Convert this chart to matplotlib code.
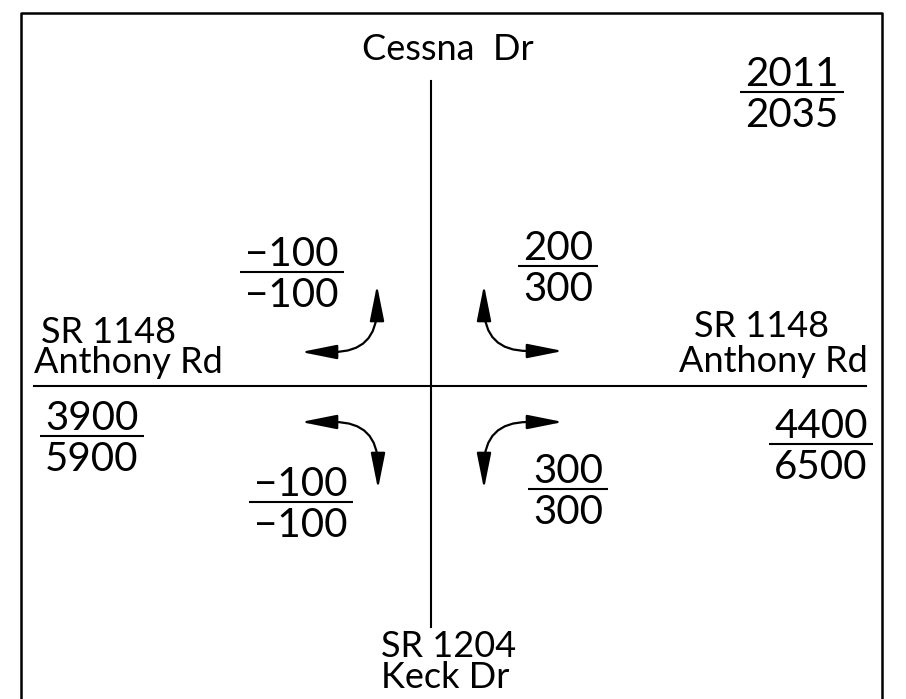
import matplotlib
matplotlib.use("Agg")
import matplotlib.pyplot as plt
from matplotlib.patches import FancyArrowPatch

plt.rcParams['font.family'] = ['Lato', 'DejaVu Sans']

# ---------------- data ----------------
years = ["2011", "2035"]
north_road = ["Cessna Dr"]
south_road = ["SR 1204", "Keck Dr"]
west_road = ["SR 1148", "Anthony Rd"]
east_road = ["SR 1148", "Anthony Rd"]
through_2011 = [3900, 4400]          # west leg, east leg
through_2035 = [5900, 6500]
turn_2011 = [-100, 200, -100, 300]   # NW, NE, SW, SE movements
turn_2035 = [-100, 300, -100, 300]

# ---------------- figure ----------------
W, H = 906, 699
fig = plt.figure(figsize=(W / 100, H / 100), dpi=100)
ax = fig.add_axes([0, 0, 1, 1])
ax.set_xlim(0, W)
ax.set_ylim(H, 0)
ax.axis('off')

K = 'black'


def fmt(v):
    return f"\u2212{abs(v)}" if v < 0 else str(v)


fig.canvas.draw()
renderer = fig.canvas.get_renderer()

FS = 29


def fraction(cx, ybar, top, bottom, size=FS):
    t1 = ax.text(cx, ybar - 6, top, ha='center', va='baseline', fontsize=size, color=K)
    t2 = ax.text(cx, ybar + 35, bottom, ha='center', va='baseline', fontsize=size, color=K)
    w = max(t.get_window_extent(renderer).width for t in (t1, t2))
    ax.plot([cx - w / 2 - 5, cx + w / 2 + 5], [ybar, ybar], color=K, lw=1.5,
            solid_capstyle='butt')


def turn_arrow(p1, p2, angA, angB):
    a = FancyArrowPatch(p1, p2,
                        connectionstyle=f"angle,angleA={angA},angleB={angB},rad=44",
                        arrowstyle="<|-|>,head_length=1.1,head_width=0.22",
                        mutation_scale=20, lw=1.6, color=K,
                        shrinkA=0, shrinkB=0)
    ax.add_patch(a)


# frame (bottom edge is cut off)
ax.plot([21, 21, 882, 882], [H + 5, 13, 13, H + 5], color=K, lw=1.8)

# roads
ax.plot([34, 866], [386, 386], color=K, lw=1.5)
ax.plot([431, 431], [81, 627], color=K, lw=1.5)

# road labels
RS = 26
ax.text(448, 60, north_road[0].replace(' ', '  '), ha='center', va='baseline', fontsize=RS)
ax.text(41, 343, west_road[0], ha='left', va='baseline', fontsize=RS)
ax.text(34, 373, west_road[1], ha='left', va='baseline', fontsize=RS)
ax.text(761, 337, east_road[0], ha='center', va='baseline', fontsize=RS)
ax.text(773, 372, east_road[1], ha='center', va='baseline', fontsize=RS)
ax.text(381, 657, south_road[0], ha='left', va='baseline', fontsize=RS)
ax.text(381, 688, south_road[1], ha='left', va='baseline', fontsize=RS)

# legend fraction (years)
fraction(792, 92, years[0], years[1])

# through volumes
fraction(92, 436, str(through_2011[0]), str(through_2035[0]))
fraction(821, 444, str(through_2011[1]), str(through_2035[1]))

# turning volumes
fraction(292, 272, fmt(turn_2011[0]), fmt(turn_2035[0]))
fraction(558, 266, fmt(turn_2011[1]), fmt(turn_2035[1]))
fraction(301, 502, fmt(turn_2011[2]), fmt(turn_2035[2]))
fraction(568, 489, fmt(turn_2011[3]), fmt(turn_2035[3]))

# turn arrows
turn_arrow((301, 352), (377, 285), 0, 90)
turn_arrow((563, 351), (484, 285), 0, 90)
turn_arrow((301, 422), (378, 489), 0, 90)
turn_arrow((563, 422), (484, 489), 0, 90)

fig.savefig("out.png", dpi=100, facecolor='white')
